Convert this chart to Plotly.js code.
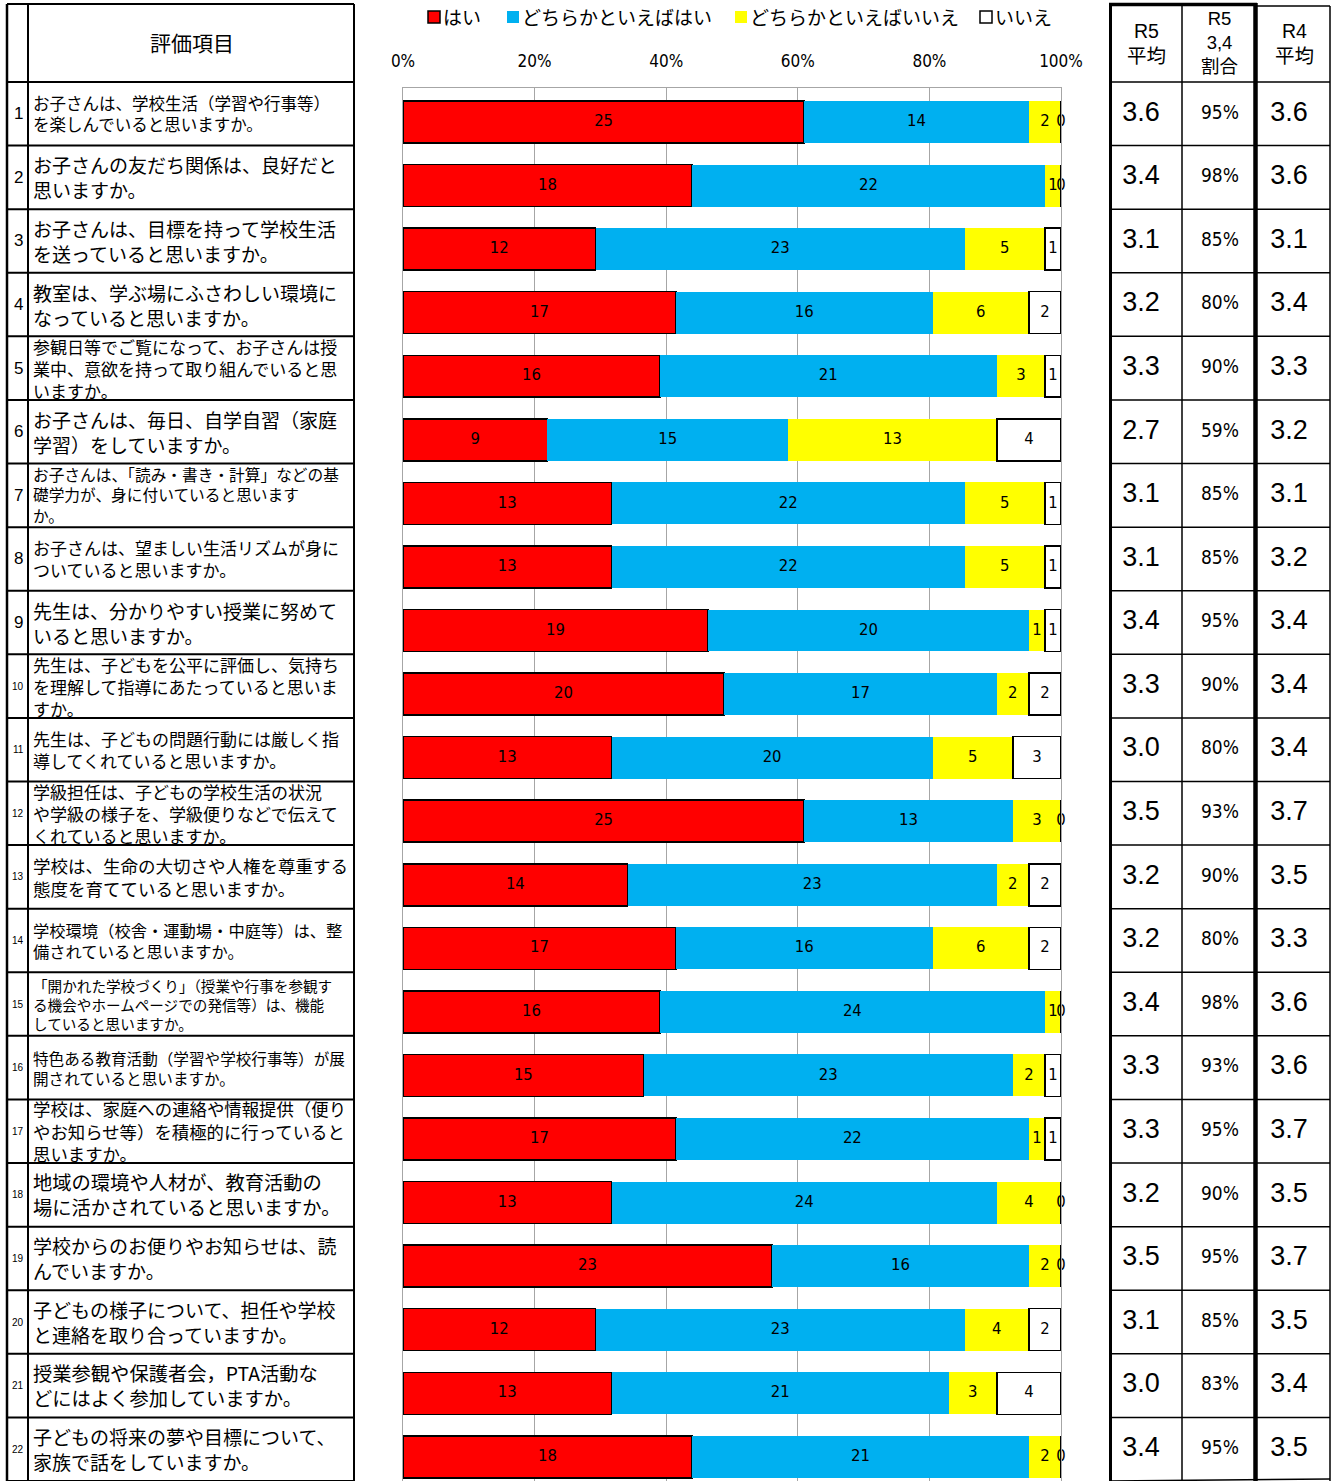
<!DOCTYPE html>
<html>
<head>
<meta charset="utf-8">
<script src="https://cdn.plot.ly/plotly-3.0.1.min.js"></script>
<style>html,body{margin:0;padding:0;background:#fff;}#chart{width:1333px;height:1481px;}</style>
</head>
<body>
<div id="chart"></div>
<script>
// ---------- data ----------
const rowNumbers = [1,2,3,4,5,6,7,8,9,10,11,12,13,14,15,16,17,18,19,20,21,22];
const questions = [
  "お子さんは、学校生活（学習や行事等）<br>を楽しんでいると思いますか。",
  "お子さんの友だち関係は、良好だと<br>思いますか。",
  "お子さんは、目標を持って学校生活<br>を送っていると思いますか。",
  "教室は、学ぶ場にふさわしい環境に<br>なっていると思いますか。",
  "参観日等でご覧になって、お子さんは授<br>業中、意欲を持って取り組んでいると思<br>いますか。",
  "お子さんは、毎日、自学自習（家庭<br>学習）をしていますか。",
  "お子さんは、「読み・書き・計算」などの基<br>礎学力が、身に付いていると思います<br>か。",
  "お子さんは、望ましい生活リズムが身に<br>ついていると思いますか。",
  "先生は、分かりやすい授業に努めて<br>いると思いますか。",
  "先生は、子どもを公平に評価し、気持ち<br>を理解して指導にあたっていると思いま<br>すか。",
  "先生は、子どもの問題行動には厳しく指<br>導してくれていると思いますか。",
  "学級担任は、子どもの学校生活の状況<br>や学級の様子を、学級便りなどで伝えて<br>くれていると思いますか。",
  "学校は、生命の大切さや人権を尊重する<br>態度を育てていると思いますか。",
  "学校環境（校舎・運動場・中庭等）は、整<br>備されていると思いますか。",
  "「開かれた学校づくり」（授業や行事を参観す<br>る機会やホームページでの発信等）は、機能<br>していると思いますか。",
  "特色ある教育活動（学習や学校行事等）が展<br>開されていると思いますか。",
  "学校は、家庭への連絡や情報提供（便り<br>やお知らせ等）を積極的に行っていると<br>思いますか。",
  "地域の環境や人材が、教育活動の<br>場に活かされていると思いますか。",
  "学校からのお便りやお知らせは、読<br>んでいますか。",
  "子どもの様子について、担任や学校<br>と連絡を取り合っていますか。",
  "授業参観や保護者会，PTA活動な<br>どにはよく参加していますか。",
  "子どもの将来の夢や目標について、<br>家族で話をしていますか。"
];
const seriesNames = ["はい", "どちらかといえばはい", "どちらかといえばいいえ", "いいえ"];
const yesCounts        = [25,18,12,17,16, 9,13,13,19,20,13,25,14,17,16,15,17,13,23,12,13,18];
const mostlyYesCounts  = [14,22,23,16,21,15,22,22,20,17,20,13,23,16,24,23,22,24,16,23,21,21];
const mostlyNoCounts   = [ 2, 1, 5, 6, 3,13, 5, 5, 1, 2, 5, 3, 2, 6, 1, 2, 1, 4, 2, 4, 3, 2];
const noCounts         = [ 0, 0, 1, 2, 1, 4, 1, 1, 1, 2, 3, 0, 2, 2, 0, 1, 1, 0, 0, 2, 4, 0];
const r5Average = [3.6,3.4,3.1,3.2,3.3,2.7,3.1,3.1,3.4,3.3,3.0,3.5,3.2,3.2,3.4,3.3,3.3,3.2,3.5,3.1,3.0,3.4];
const r5Ratio34 = [95,98,85,80,90,59,85,85,95,90,80,93,90,80,98,93,95,90,95,85,83,95];
const r4Average = [3.6,3.6,3.1,3.4,3.3,3.2,3.1,3.2,3.4,3.4,3.4,3.7,3.5,3.3,3.6,3.6,3.7,3.5,3.7,3.5,3.4,3.5];
const tableHeaders = ["評価項目", "R5<br>平均", "R5<br>3,4<br>割合", "R4<br>平均"];

// ---------- styles ----------
const CJK = '"Noto Sans CJK JP", "Noto Sans CJK SC", sans-serif';
const NARROW = '"Liberation Sans Narrow", "DejaVu Sans Condensed", sans-serif';
const ARIAL = '"Liberation Sans", Arial, "Noto Sans CJK JP", sans-serif';
const colors = ["#FF0000", "#00B0F0", "#FFFF00", "#FFFFFF"];
const outlined = [true, false, false, true];
const questionFontSizes = [16.5,19,19,19,17,19,15.7,17,19,17,17,17,17.5,16.3,14.6,15.6,17.4,19.3,19,19,19.3,19];

const W = 1333, H = 1481;
// table y-axis: row i centred, header above
const ROW_H = 63.59, TOP_VAL = -0.7895;
const py = p => TOP_VAL + p / ROW_H;        // pixel -> table y value
const pp = p => 1 - p / H;                   // pixel -> paper y

const allSeries = [yesCounts, mostlyYesCounts, mostlyNoCounts, noCounts];

// ---------- traces ----------
const traces = allSeries.map((vals, k) => ({
  type: 'bar', orientation: 'h', name: seriesNames[k],
  x: vals, y: rowNumbers, xaxis: 'x', yaxis: 'y2', width: 0.66,
  marker: {color: colors[k], line: {color: outlined[k] ? '#000' : colors[k], width: outlined[k] ? 1.5 : 0}},
  textposition: 'none', hoverinfo: 'name+x', showlegend: false
}));

// bar value labels at segment centres
const lx = [], ly = [], lt = [];
rowNumbers.forEach((r, i) => {
  const total = allSeries.reduce((s, a) => s + a[i], 0);
  let cum = 0;
  allSeries.forEach(a => {
    lx.push((cum + a[i] / 2) / total); ly.push(r); lt.push(String(a[i]));
    cum += a[i];
  });
});
traces.push({type: 'scatter', mode: 'text', x: lx, y: ly, text: lt, xaxis: 'x', yaxis: 'y2',
  textposition: 'middle center', textfont: {family: NARROW, size: 16.5, color: '#000'},
  cliponaxis: false, hoverinfo: 'skip', showlegend: false});

// right table values
traces.push({type: 'scatter', mode: 'text', x: rowNumbers.map(() => 1141), y: rowNumbers,
  text: r5Average.map(v => v.toFixed(1)), xaxis: 'x2', yaxis: 'y',
  textfont: {family: ARIAL, size: 27, color: '#000'}, cliponaxis: false, hoverinfo: 'skip', showlegend: false});
traces.push({type: 'scatter', mode: 'text', x: rowNumbers.map(() => 1220), y: rowNumbers,
  text: r5Ratio34.map(v => v + '%'), xaxis: 'x2', yaxis: 'y',
  textfont: {family: NARROW, size: 19, color: '#000'}, cliponaxis: false, hoverinfo: 'skip', showlegend: false});
traces.push({type: 'scatter', mode: 'text', x: rowNumbers.map(() => 1289), y: rowNumbers,
  text: r4Average.map(v => v.toFixed(1)), xaxis: 'x2', yaxis: 'y',
  textfont: {family: ARIAL, size: 27, color: '#000'}, cliponaxis: false, hoverinfo: 'skip', showlegend: false});

// ---------- shapes & annotations ----------
const shapes = [], annotations = [];
const line = (x0, y0, x1, y1, w, c) => shapes.push({type: 'line', xref: 'x2', yref: 'y', x0, y0, x1, y1,
  line: {color: c || '#000', width: w}});

// left table
const topV = py(4);
line(7, topV, 354, topV, 2);
line(7, 0.5, 354, 0.5, 2);
rowNumbers.forEach(r => line(7, r + 0.5, 354, r + 0.5, 2));
line(7, topV, 7, 22.5, 2.5);
line(28, topV, 28, 22.5, 2);
line(354, topV, 354, 22.5, 2);

// right table
line(1109, py(4.5), 1257, py(4.5), 3.5);
line(1257, py(6), 1330, py(6), 1.5);
line(1110, 0.5, 1330, 0.5, 1.5);
rowNumbers.forEach(r => line(1110, r + 0.5, 1330, Math.min(r + 0.5, py(1479)), 1.5));
line(1110.5, py(3), 1110.5, 22.5, 3);
line(1182, py(3), 1182, 22.5, 1.5);
line(1255.5, py(3), 1255.5, 22.5, 4.5);
line(1330, py(6), 1330, 22.5, 1.5);

// headers
annotations.push({xref: 'x2', yref: 'y', x: 192, y: py(42), text: tableHeaders[0], showarrow: false,
  font: {family: CJK, size: 21, color: '#000'}});
annotations.push({xref: 'x2', yref: 'y', x: 1146, y: py(43), text: tableHeaders[1], showarrow: false,
  font: {family: ARIAL, size: 19.5, color: '#000'}});
annotations.push({xref: 'x2', yref: 'y', x: 1219, y: py(42), text: tableHeaders[2], showarrow: false,
  font: {family: ARIAL, size: 18.5, color: '#000'}});
annotations.push({xref: 'x2', yref: 'y', x: 1294, y: py(43), text: tableHeaders[3], showarrow: false,
  font: {family: ARIAL, size: 19.5, color: '#000'}});

// left table rows
rowNumbers.forEach((r, i) => {
  annotations.push({xref: 'x2', yref: 'y', x: 18, y: r, text: String(r), showarrow: false,
    xanchor: 'center', font: {family: ARIAL, size: r < 10 ? 17 : 10, color: '#000'}});
  annotations.push({xref: 'x2', yref: 'y', x: 31, y: r, text: questions[i], showarrow: false,
    xanchor: 'left', yanchor: 'middle', align: 'left',
    font: {family: CJK, size: questionFontSizes[i], color: '#000'}});
});

// custom legend
const legendX = [428, 507, 735, 980];
seriesNames.forEach((n, k) => {
  shapes.push({type: 'rect', xref: 'x2', yref: 'paper', x0: legendX[k], x1: legendX[k] + 12,
    y0: pp(23), y1: pp(11), fillcolor: colors[k],
    line: {color: outlined[k] ? '#000' : colors[k], width: outlined[k] ? 1.5 : 0}});
  annotations.push({xref: 'x2', yref: 'paper', x: legendX[k] + 13, y: pp(17), text: n, showarrow: false,
    xanchor: 'left', yanchor: 'middle', font: {family: CJK, size: 19, color: '#000'}});
});

// ---------- layout ----------
const layout = {
  width: W, height: H,
  margin: {l: 0, r: 0, t: 0, b: 0, pad: 0},
  paper_bgcolor: '#fff', plot_bgcolor: 'rgba(0,0,0,0)',
  barmode: 'stack', barnorm: 'fraction', bargap: 0,
  showlegend: false,
  xaxis: {domain: [403 / W, 1061 / W], range: [0, 1], anchor: 'y2', side: 'top',
    tickvals: [0, 0.2, 0.4, 0.6, 0.8, 1], tickformat: '.0%', ticks: '', ticklabelstandoff: 13,
    tickfont: {family: NARROW, size: 17, color: '#000'},
    showgrid: true, gridcolor: '#A6A6A6', gridwidth: 1, zeroline: false,
    showline: true, linecolor: '#A6A6A6', linewidth: 1, fixedrange: true},
  yaxis2: {domain: [0, 1 - 88 / H], range: [22.38, 0.465], anchor: 'x',
    showticklabels: false, showgrid: false, zeroline: false, ticks: '',
    showline: true, mirror: true, linecolor: '#A6A6A6', linewidth: 1, fixedrange: true},
  xaxis2: {domain: [0, 1], range: [0, W], anchor: 'y', visible: false, fixedrange: true},
  yaxis: {domain: [0, 1], range: [22.5, TOP_VAL], anchor: 'x2', visible: false, fixedrange: true},
  shapes, annotations
};

Plotly.newPlot('chart', traces, layout, {displayModeBar: false, staticPlot: true});
</script>
</body>
</html>
